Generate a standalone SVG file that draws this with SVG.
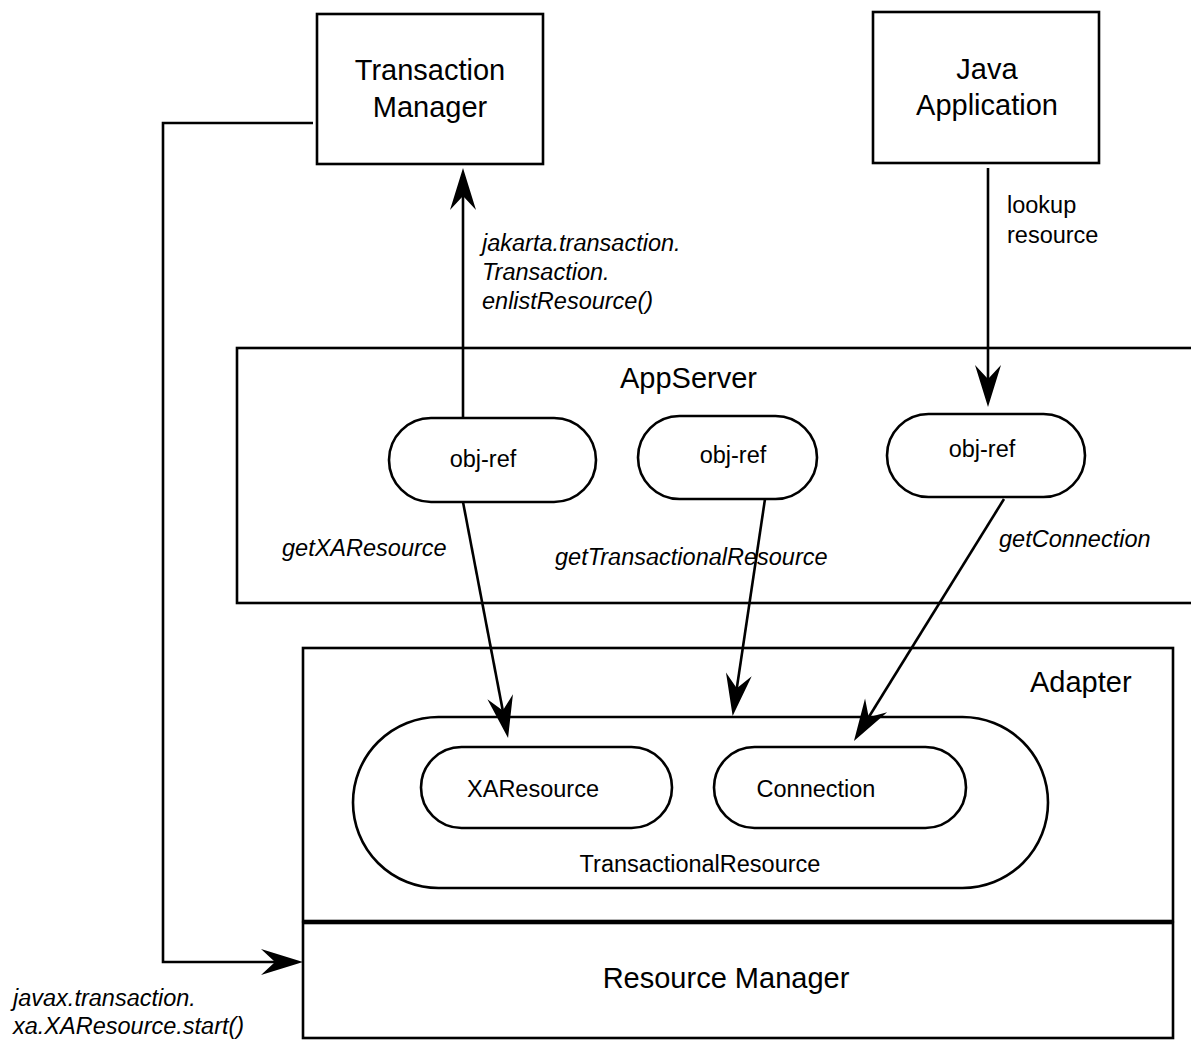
<svg xmlns="http://www.w3.org/2000/svg" width="1191" height="1041" viewBox="0 0 1191 1041">
<style>
.box{fill:#fff;stroke:#000;stroke-width:2.6}
.ln{fill:none;stroke:#000;stroke-width:2.6}
.big{font-family:"Liberation Sans",Arial,sans-serif;font-size:29px;fill:#000}
.sm{font-family:"Liberation Sans",Arial,sans-serif;font-size:23.5px;fill:#000}
.it{font-family:"Liberation Sans",Arial,sans-serif;font-size:23.5px;font-style:italic;fill:#000}
</style>
<defs>
<marker id="ah" markerUnits="userSpaceOnUse" viewBox="-44 -15 46 30" markerWidth="46" markerHeight="30" refX="-20" refY="0" orient="auto">
<path d="M0,0 L-42,-13 L-28,0 L-42,13 Z" fill="#000"/>
</marker>
</defs>
<rect width="1191" height="1041" fill="#fff"/>
<g id="appserver">
<rect class="box" x="237" y="348" width="970" height="255"/>
<text class="big" x="620" y="388">AppServer</text>
</g>
<g id="adapter">
<rect class="box" x="303" y="648" width="870" height="273"/>
<text class="big" x="1030" y="692">Adapter</text>
</g>
<g id="resource-manager">
<rect class="box" x="303" y="923" width="870" height="115"/>
<text class="big" x="726" y="988" text-anchor="middle">Resource Manager</text>
</g>
<g id="transaction-manager">
<rect class="box" x="317" y="14" width="226" height="150"/>
<text class="big" x="430" y="80" text-anchor="middle">Transaction</text>
<text class="big" x="430" y="117" text-anchor="middle">Manager</text>
</g>
<g id="java-application">
<rect class="box" x="873" y="12" width="226" height="151"/>
<text class="big" x="987" y="79" text-anchor="middle">Java</text>
<text class="big" x="987" y="115" text-anchor="middle">Application</text>
</g>
<g id="objref1">
<rect class="box" x="389" y="418" width="207" height="84" rx="42"/>
<text class="sm" x="483" y="467" text-anchor="middle">obj-ref</text>
</g>
<g id="objref2">
<rect class="box" x="638" y="416" width="179" height="83" rx="41.5"/>
<text class="sm" x="733" y="463" text-anchor="middle">obj-ref</text>
</g>
<g id="objref3">
<rect class="box" x="887" y="414" width="198" height="83" rx="41.5"/>
<text class="sm" x="982" y="457" text-anchor="middle">obj-ref</text>
</g>
<g id="transactional-resource">
<rect class="box" x="353" y="717" width="695" height="171" rx="85.5"/>
<text class="sm" x="700" y="872" text-anchor="middle">TransactionalResource</text>
</g>
<g id="xaresource">
<rect class="box" x="421" y="747" width="251" height="81" rx="40.5"/>
<text class="sm" x="533" y="797" text-anchor="middle">XAResource</text>
</g>
<g id="connection">
<rect class="box" x="714" y="747" width="252" height="81" rx="40.5"/>
<text class="sm" x="816" y="797" text-anchor="middle">Connection</text>
</g>
<g id="connectors">
<line class="ln" x1="463" y1="418" x2="463" y2="188" marker-end="url(#ah)"/>
<line class="ln" x1="988" y1="168" x2="988" y2="387" marker-end="url(#ah)"/>
<line class="ln" x1="463" y1="502" x2="504.3" y2="718.4" marker-end="url(#ah)"/>
<line class="ln" x1="765" y1="499" x2="735.6" y2="696.2" marker-end="url(#ah)"/>
<line class="ln" x1="1004" y1="499" x2="864.5" y2="724" marker-end="url(#ah)"/>
<polyline class="ln" points="313,123 163,123 163,962 283,962" marker-end="url(#ah)"/>
</g>
<g id="labels">
<text class="it" x="482" y="251">jakarta.transaction.</text>
<text class="it" x="482" y="280">Transaction.</text>
<text class="it" x="482" y="309">enlistResource()</text>
<text class="sm" x="1007" y="213">lookup</text>
<text class="sm" x="1007" y="243">resource</text>
<text class="it" x="282" y="556">getXAResource</text>
<text class="it" x="555" y="565">getTransactionalResource</text>
<text class="it" x="999" y="547">getConnection</text>
<text class="it" x="13" y="1006">javax.transaction.</text>
<text class="it" x="13" y="1034">xa.XAResource.start()</text>
</g>
</svg>
